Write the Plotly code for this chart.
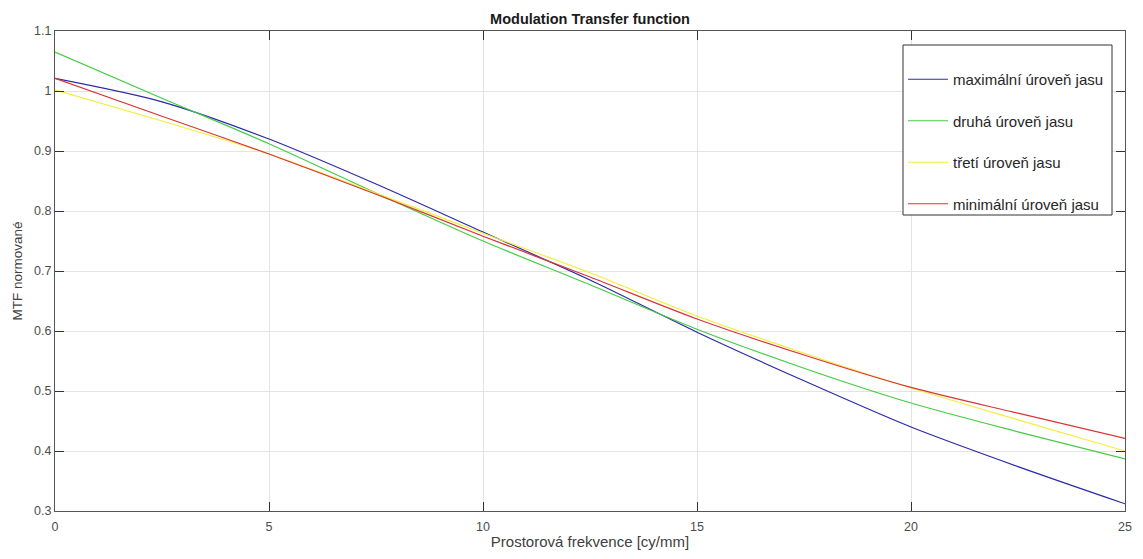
import plotly.graph_objects as go

# spatial frequency samples [cy/mm]
freq = [0, 2.5, 5, 7.5, 10, 12.5, 15, 17.5, 20, 22.5, 25]

# normalised MTF for the four brightness levels
mtf_max = [1.021, 0.982, 0.920, 0.845, 0.765, 0.685, 0.598, 0.517, 0.440, 0.374, 0.312]
mtf_second = [1.065, 0.988, 0.912, 0.830, 0.750, 0.677, 0.603, 0.538, 0.480, 0.432, 0.387]
mtf_third = [1.002, 0.950, 0.895, 0.830, 0.763, 0.697, 0.625, 0.563, 0.505, 0.452, 0.400]
mtf_min = [1.021, 0.958, 0.895, 0.828, 0.758, 0.690, 0.620, 0.560, 0.506, 0.463, 0.421]

series = [
    ("maximální úroveň jasu", mtf_max, "#2a2aa8"),
    ("druhá úroveň jasu", mtf_second, "#44cc44"),
    ("třetí úroveň jasu", mtf_third, "#f2ee3a"),
    ("minimální úroveň jasu", mtf_min, "#d93535"),
]

x_ticks = [0, 5, 10, 15, 20, 25]
y_ticks = [0.3, 0.4, 0.5, 0.6, 0.7, 0.8, 0.9, 1.0, 1.1]
y_tick_text = ["0.3", "0.4", "0.5", "0.6", "0.7", "0.8", "0.9", "1", "1.1"]

FONT = "Liberation Sans, Arial, sans-serif"
W, H = 1143, 559
ML, MR, MT, MB = 55, 18, 31, 48
PW, PH = W - ML - MR, H - MT - MB


def px_x(p):
    return (p - ML) / PW


def px_y(p):
    return (H - MB - p) / PH


fig = go.Figure()
for i, (name, vals, color) in enumerate(series):
    fig.add_trace(go.Scatter(
        x=freq, y=vals, mode="lines", name=name,
        line=dict(color=color, width=1.2, shape="spline", smoothing=0.8),
        legendgroup=f"g{i}",
    ))

axis_common = dict(
    showgrid=True, gridcolor="#e3e3e3", gridwidth=1,
    showline=True, linecolor="#555555", linewidth=1, mirror="ticks",
    ticks="inside", ticklen=9, tickcolor="#333333", tickwidth=1,
    tickfont=dict(family=FONT, size=12.5, color="#4d4d4d"),
    zeroline=False,
)

fig.update_xaxes(
    range=[0, 25], tickvals=x_ticks, ticklabelstandoff=4,
    title=dict(text="Prostorová frekvence [cy/mm]", standoff=3,
               font=dict(family=FONT, size=15, color="#404040")),
    **axis_common,
)
fig.update_yaxes(
    range=[0.3, 1.1], tickvals=y_ticks, ticktext=y_tick_text,
    title=dict(text="MTF normované", standoff=8,
               font=dict(family=FONT, size=13.5, color="#404040")),
    **axis_common,
)

# legend frame
fig.add_shape(
    type="rect", xref="paper", yref="paper",
    x0=px_x(903), x1=px_x(1112), y0=px_y(215), y1=px_y(45),
    line=dict(color="#333333", width=1), fillcolor="white", layer="above",
)

fig.update_layout(
    width=W, height=H,
    margin=dict(l=ML, r=MR, t=MT, b=MB),
    paper_bgcolor="white", plot_bgcolor="white",
    title=dict(text="<b>Modulation Transfer function</b>", x=px_x(590), xref="paper",
               xanchor="center", y=1 - 19 / H, yanchor="middle",
               font=dict(family=FONT, size=14.5, color="#1a1a1a")),
    legend=dict(
        x=px_x(903), y=px_y(63), xanchor="left", yanchor="top",
        bgcolor="rgba(0,0,0,0)", borderwidth=0, itemwidth=40,
        font=dict(family=FONT, size=15, color="#262626"),
        tracegroupgap=19, traceorder="grouped",
    ),
)

fig.write_html("out.html")
